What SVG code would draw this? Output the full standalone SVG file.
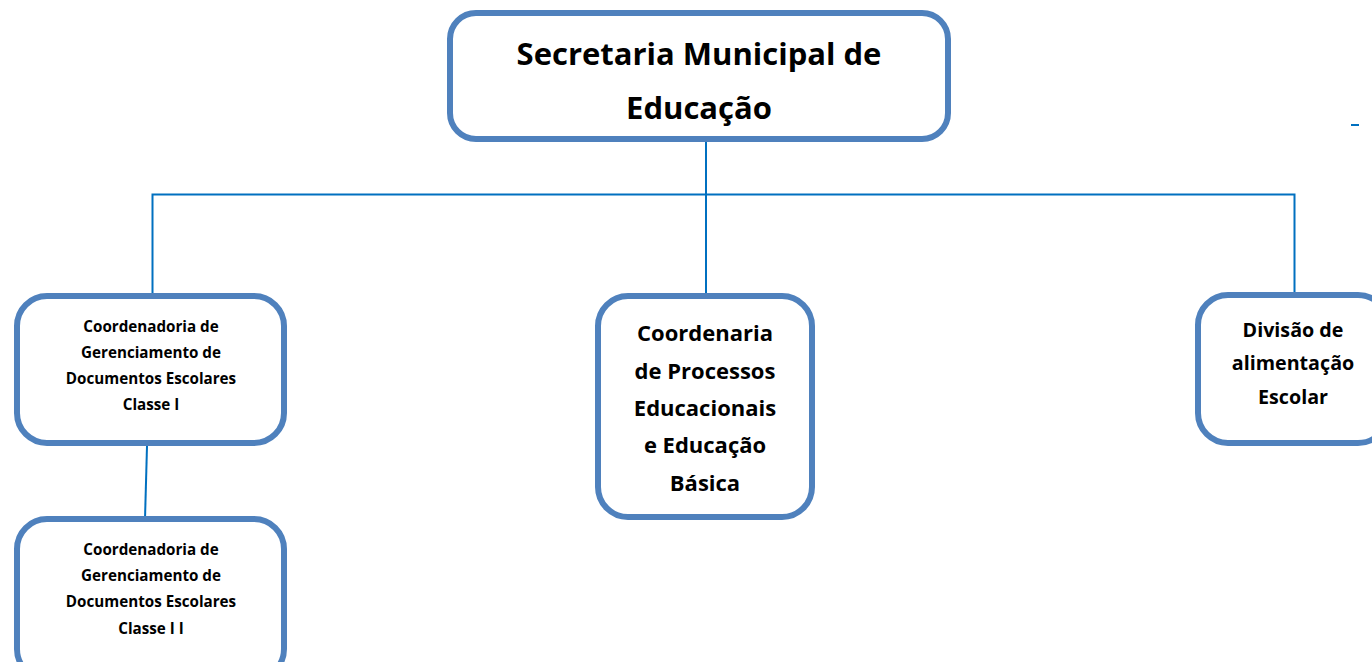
<svg xmlns="http://www.w3.org/2000/svg" width="1372" height="662" viewBox="0 0 1372 662">
<style>
.box{fill:#fff;stroke:#4F81BD;stroke-width:6}
.con{fill:none;stroke:#0070C0;stroke-width:2}
text{font-family:"Open Sans","Noto Sans",sans-serif;font-weight:bold;fill:#000;text-anchor:middle}
.t1{font-size:31px}
.t2{font-size:15.2px}
.t3{font-size:22px}
.t4{font-size:19.7px}
</style>
<rect width="1372" height="662" fill="#fff"/>
<g id="connectors">
<line class="con" x1="706" y1="141" x2="706" y2="295"/>
<polyline class="con" points="152.5,294 152.5,194.5 1294.5,194.5 1294.5,293"/>
<line class="con" x1="147" y1="446" x2="145" y2="519"/>
<line class="con" x1="1351" y1="125" x2="1359" y2="125"/>
</g>
<g id="secretaria">
<rect class="box" x="450" y="13" width="498" height="126" rx="26"/>
<text class="t1" x="699" y="65">Secretaria Municipal de</text>
<text class="t1" x="699" y="119">Educação</text>
</g>
<g id="classe1">
<rect class="box" x="17" y="296" width="267" height="147" rx="30"/>
<text class="t2" x="151" y="332">Coordenadoria de</text>
<text class="t2" x="151" y="358">Gerenciamento de</text>
<text class="t2" x="151" y="384">Documentos Escolares</text>
<text class="t2" x="151" y="410">Classe I</text>
</g>
<g id="classe2">
<rect class="box" x="17" y="519" width="267" height="160" rx="30"/>
<text class="t2" x="151" y="555">Coordenadoria de</text>
<text class="t2" x="151" y="581">Gerenciamento de</text>
<text class="t2" x="151" y="607">Documentos Escolares</text>
<text class="t2" x="151" y="634">Classe I I</text>
</g>
<g id="processos">
<rect class="box" x="598" y="296" width="214" height="221" rx="30"/>
<text class="t3" x="705" y="341">Coordenaria</text>
<text class="t3" x="705" y="379">de Processos</text>
<text class="t3" x="705" y="416">Educacionais</text>
<text class="t3" x="705" y="453">e Educação</text>
<text class="t3" x="705" y="491">Básica</text>
</g>
<g id="alimentacao">
<rect class="box" x="1198" y="295" width="190" height="148" rx="30"/>
<text class="t4" x="1293" y="337">Divisão de</text>
<text class="t4" x="1293" y="370">alimentação</text>
<text class="t4" x="1293" y="404">Escolar</text>
</g>
</svg>
